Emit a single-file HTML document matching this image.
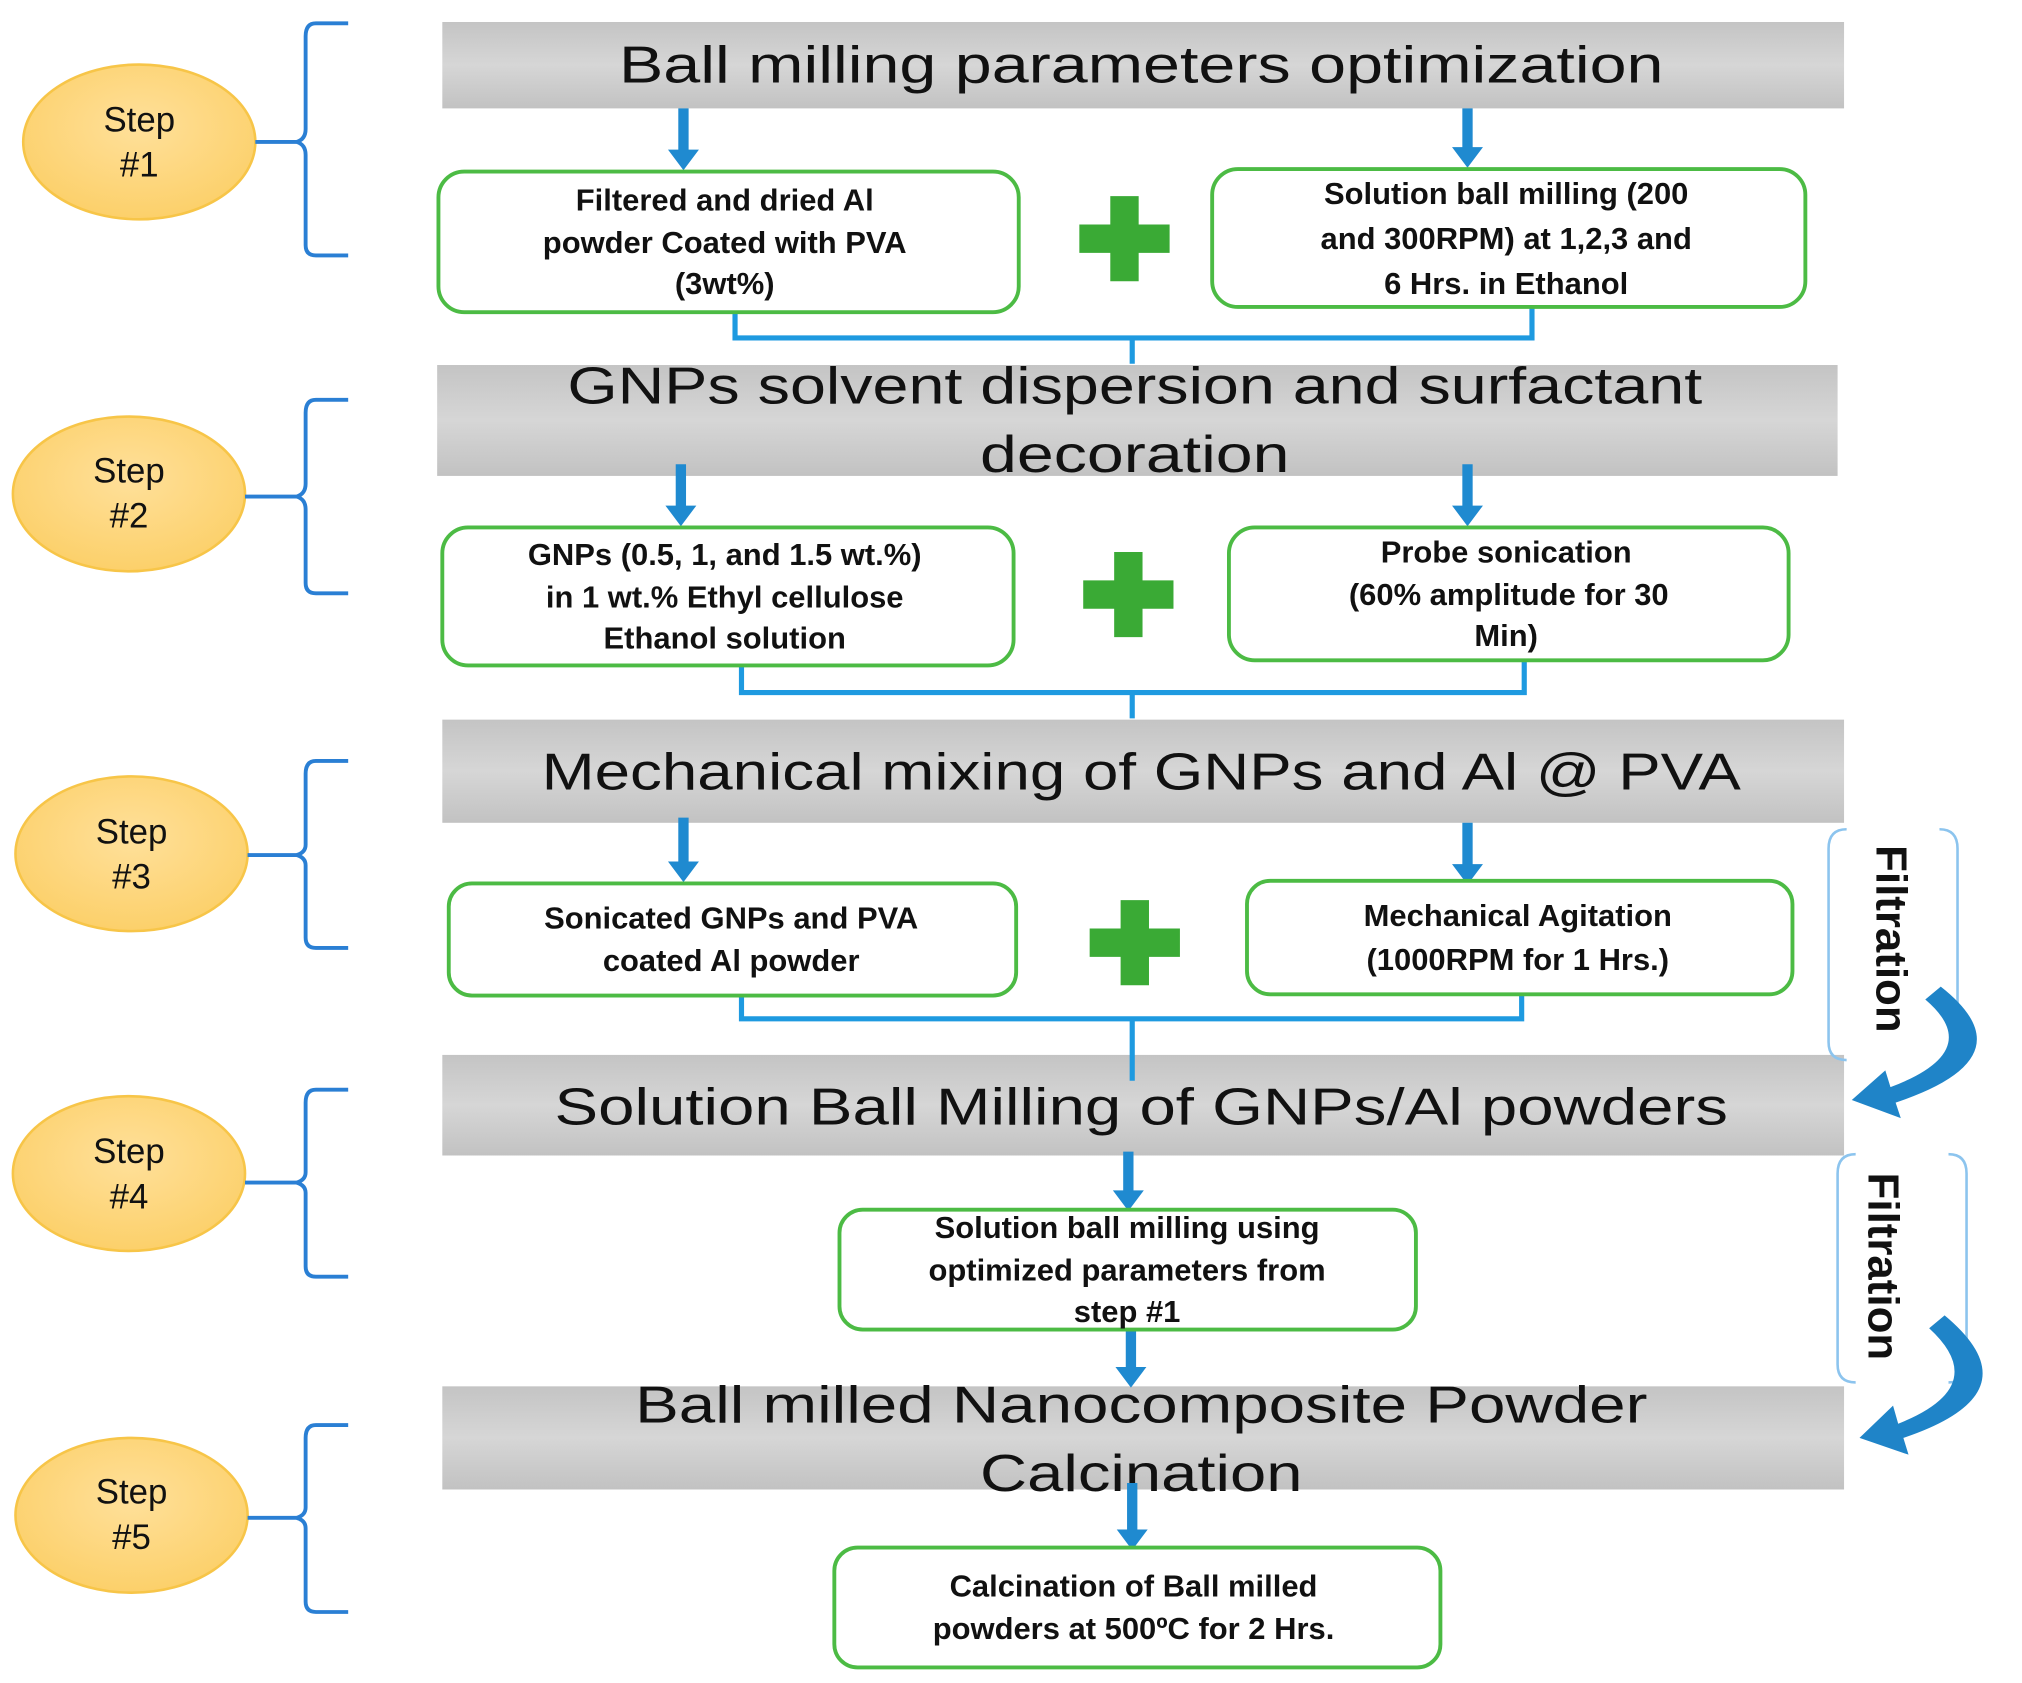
<!DOCTYPE html>
<html><head><meta charset="utf-8"><style>
html,body{margin:0;padding:0;background:#fff;}
svg{display:block;}
text{font-family:"Liberation Sans",sans-serif;}
.h{font-size:40px;fill:#111;text-anchor:middle;}
.b{font-size:24px;font-weight:bold;fill:#111;text-anchor:middle;}
.s{font-size:27px;fill:#111;text-anchor:middle;}
</style></head><body>
<svg width="2022" height="1683" viewBox="0 0 1568 1305" xmlns="http://www.w3.org/2000/svg">
<defs>
<linearGradient id="g" x1="0" y1="0" x2="0" y2="1"><stop offset="0" stop-color="#c4c4c4"/><stop offset="0.5" stop-color="#d6d6d6"/><stop offset="1" stop-color="#c2c2c2"/></linearGradient>
<radialGradient id="c" cx="0.5" cy="0.4" r="0.6"><stop offset="0" stop-color="#ffe09a"/><stop offset="1" stop-color="#fcd06a"/></radialGradient>
</defs>
<rect x="343" y="17" width="1087" height="67" fill="url(#g)"/>
<rect x="339" y="283" width="1086" height="86" fill="url(#g)"/>
<rect x="343" y="558" width="1087" height="80" fill="url(#g)"/>
<rect x="343" y="818" width="1087" height="78" fill="url(#g)"/>
<rect x="343" y="1075" width="1087" height="80" fill="url(#g)"/>
<text class="h" x="885" y="64" textLength="810" lengthAdjust="spacingAndGlyphs">Ball milling parameters optimization</text>
<text class="h" x="880" y="313" textLength="880" lengthAdjust="spacingAndGlyphs">GNPs solvent dispersion and surfactant</text>
<text class="h" x="880" y="366" textLength="240" lengthAdjust="spacingAndGlyphs">decoration</text>
<text class="h" x="885" y="612" textLength="930" lengthAdjust="spacingAndGlyphs">Mechanical mixing of GNPs and Al @ PVA</text>
<text class="h" x="885" y="872" textLength="910" lengthAdjust="spacingAndGlyphs">Solution Ball Milling of GNPs/Al powders</text>
<text class="h" x="885" y="1103" textLength="785" lengthAdjust="spacingAndGlyphs">Ball milled Nanocomposite Powder</text>
<text class="h" x="885" y="1156" textLength="250" lengthAdjust="spacingAndGlyphs">Calcination</text>
<g fill="#1f8ad0">
<path d="M526 84h8v32h8l-12 16l-12-16h8z"/>
<path d="M1134 84h8v30h8l-12 16l-12-16h8z"/>
<path d="M524 360h8v32h8l-12 16l-12-16h8z"/>
<path d="M1134 360h8v32h8l-12 16l-12-16h8z"/>
<path d="M526 634h8v34h8l-12 16l-12-16h8z"/>
<path d="M1134 638h8v32h8l-12 16l-12-16h8z"/>
<path d="M871 893h8v30h8l-12 16l-12-16h8z"/>
<path d="M873 1025h8v35h8l-12 16l-12-16h8z"/>
<path d="M874 1150h8v36h8l-12 16l-12-16h8z"/>
</g>
<g fill="none" stroke="#1e9ae0" stroke-width="4">
<path d="M570 238V262H1188V236M878 262V282"/>
<path d="M575 512V537H1182V510M878 537V557"/>
<path d="M575 765V790H1180V765M878 790V838"/>
</g>
<g fill="#fff" stroke="#4cbb44" stroke-width="3">
<rect x="340" y="133" width="450" height="109" rx="20"/>
<rect x="940" y="131" width="460" height="107" rx="20"/>
<rect x="343" y="409" width="443" height="107" rx="20"/>
<rect x="953" y="409" width="434" height="103" rx="20"/>
<rect x="348" y="685" width="440" height="87" rx="18"/>
<rect x="967" y="683" width="423" height="88" rx="18"/>
<rect x="651" y="938" width="447" height="93" rx="18"/>
<rect x="647" y="1200" width="470" height="93" rx="18"/>
</g>
<g fill="#3aaa35">
<path d="M861 152h22v22h24v22h-24v22h-22v-22h-24v-22h24z"/>
<path d="M864 428h22v22h24v22h-24v22h-22v-22h-24v-22h24z"/>
<path d="M869 698h22v22h24v22h-24v22h-22v-22h-24v-22h24z"/>
</g>
<text class="b" x="562" y="163">Filtered and dried Al</text>
<text class="b" x="562" y="196">powder Coated with PVA</text>
<text class="b" x="562" y="228">(3wt%)</text>
<text class="b" x="1168" y="158">Solution  ball milling (200</text>
<text class="b" x="1168" y="193">and 300RPM) at 1,2,3 and</text>
<text class="b" x="1168" y="228">6 Hrs. in Ethanol</text>
<text class="b" x="562" y="438">GNPs (0.5, 1, and 1.5 wt.%)</text>
<text class="b" x="562" y="471">in 1 wt.% Ethyl cellulose</text>
<text class="b" x="562" y="503">Ethanol solution</text>
<text class="b" x="1168" y="436">Probe sonication</text>
<text class="b" x="1170" y="469">(60% amplitude for 30</text>
<text class="b" x="1168" y="501">Min)</text>
<text class="b" x="567" y="720">Sonicated GNPs and PVA</text>
<text class="b" x="567" y="753">coated Al powder</text>
<text class="b" x="1177" y="718">Mechanical Agitation</text>
<text class="b" x="1177" y="752">(1000RPM for 1 Hrs.)</text>
<text class="b" x="874" y="960">Solution ball milling using</text>
<text class="b" x="874" y="993">optimized parameters from</text>
<text class="b" x="874" y="1025">step #1</text>
<text class="b" x="879" y="1238">Calcination of Ball milled</text>
<text class="b" x="879" y="1271">powders at 500ºC for 2 Hrs.</text>
<g fill="url(#c)" stroke="#f7c548" stroke-width="2">
<ellipse cx="108" cy="110" rx="90" ry="60"/>
<ellipse cx="100" cy="383" rx="90" ry="60"/>
<ellipse cx="102" cy="662" rx="90" ry="60"/>
<ellipse cx="100" cy="910" rx="90" ry="60"/>
<ellipse cx="102" cy="1175" rx="90" ry="60"/>
</g>
<text class="s" x="108" y="102">Step</text><text class="s" x="108" y="137">#1</text>
<text class="s" x="100" y="374">Step</text><text class="s" x="100" y="409">#2</text>
<text class="s" x="102" y="654">Step</text><text class="s" x="102" y="689">#3</text>
<text class="s" x="100" y="902">Step</text><text class="s" x="100" y="937">#4</text>
<text class="s" x="102" y="1166">Step</text><text class="s" x="102" y="1201">#5</text>
<g fill="none" stroke="#2a7fd4" stroke-width="3">
<path d="M270 18H245Q237 18 237 28V100Q237 108 230 110Q237 112 237 120V190Q237 198 245 198H270M198 110H230"/>
<path d="M270 310H245Q237 310 237 320V375Q237 383 230 385Q237 387 237 395V452Q237 460 245 460H270M190 385H230"/>
<path d="M270 590H245Q237 590 237 600V655Q237 661 230 663Q237 665 237 671V727Q237 735 245 735H270M192 663H230"/>
<path d="M270 845H245Q237 845 237 855V909Q237 915 230 917Q237 919 237 925V982Q237 990 245 990H270M190 917H230"/>
<path d="M270 1105H245Q237 1105 237 1115V1169Q237 1175 230 1177Q237 1179 237 1185V1242Q237 1250 245 1250H270M192 1177H230"/>
</g>
<g fill="none" stroke="#8cc4ee" stroke-width="2">
<path d="M1432 643Q1418 643 1418 658V808Q1418 822 1432 822M1504 643Q1518 643 1518 658V808Q1518 822 1504 822"/>
<path d="M1439 895Q1425 895 1425 910V1058Q1425 1072 1439 1072M1511 895Q1525 895 1525 910V1058Q1525 1072 1511 1072"/>
</g>
<text x="1455" y="728" transform="rotate(90 1455 728)" style="font-size:34px;font-weight:bold;text-anchor:middle;fill:#111">Filtration</text>
<text x="1449" y="982" transform="rotate(90 1449 982)" style="font-size:34px;font-weight:bold;text-anchor:middle;fill:#111">Filtration</text>
<g fill="#1f84c8">
<path d="M1505 765Q1575 820 1470 855L1474 867L1436 853L1462 830L1466 843Q1540 815 1493 775Z"/>
<path d="M1508 1020Q1580 1080 1476 1115L1480 1128L1442 1115L1468 1090L1472 1104Q1545 1075 1496 1030Z"/>
</g>
</svg>
</body></html>
